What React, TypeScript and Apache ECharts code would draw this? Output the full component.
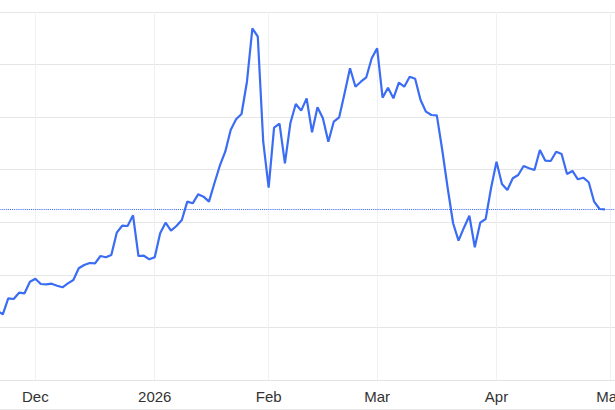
import React, { useEffect, useRef } from "react";
import * as echarts from "echarts";

const dates: string[] = [
  "2025-11-20", "2025-11-21", "2025-11-24", "2025-11-25", "2025-11-26", "2025-11-27", "2025-11-28",
  "2025-12-01", "2025-12-02", "2025-12-03", "2025-12-04", "2025-12-05", "2025-12-08", "2025-12-09",
  "2025-12-10", "2025-12-11", "2025-12-12", "2025-12-15", "2025-12-16", "2025-12-17", "2025-12-18",
  "2025-12-19", "2025-12-22", "2025-12-23", "2025-12-24", "2025-12-26", "2025-12-29", "2025-12-30",
  "2025-12-31",
  "2026-01-02", "2026-01-05", "2026-01-06", "2026-01-07", "2026-01-08", "2026-01-09", "2026-01-12",
  "2026-01-13", "2026-01-14", "2026-01-15", "2026-01-16", "2026-01-19", "2026-01-20", "2026-01-21",
  "2026-01-22", "2026-01-23", "2026-01-26", "2026-01-27", "2026-01-28", "2026-01-29", "2026-01-30",
  "2026-02-02", "2026-02-03", "2026-02-04", "2026-02-05", "2026-02-06", "2026-02-09", "2026-02-10",
  "2026-02-11", "2026-02-12", "2026-02-13", "2026-02-16", "2026-02-17", "2026-02-18", "2026-02-19",
  "2026-02-20", "2026-02-23", "2026-02-24", "2026-02-25", "2026-02-26", "2026-02-27",
  "2026-03-02", "2026-03-03", "2026-03-04", "2026-03-05", "2026-03-06", "2026-03-09", "2026-03-10",
  "2026-03-11", "2026-03-12", "2026-03-13", "2026-03-16", "2026-03-17", "2026-03-18", "2026-03-19",
  "2026-03-20", "2026-03-23", "2026-03-24", "2026-03-25", "2026-03-26", "2026-03-27", "2026-03-30",
  "2026-03-31",
  "2026-04-01", "2026-04-02", "2026-04-06", "2026-04-07", "2026-04-08", "2026-04-09", "2026-04-10",
  "2026-04-13", "2026-04-14", "2026-04-15", "2026-04-16", "2026-04-17", "2026-04-20", "2026-04-21",
  "2026-04-22", "2026-04-23", "2026-04-24", "2026-04-27", "2026-04-28", "2026-04-29", "2026-04-30",
  "2026-05-01", "2026-05-04",
];

const prices: number[] = [
  73.13, 72.5, 75.54, 75.41, 76.61, 76.49, 78.7,
  79.27, 78.26, 78.2, 78.32, 77.94, 77.63, 78.39, 79.02, 81.25, 81.88, 82.26, 82.2, 83.59, 83.34,
  83.78, 88.02, 89.35, 89.29, 91.33, 83.59, 83.64, 82.96,
  83.34, 87.91, 89.92, 88.4, 89.29, 90.44, 93.92, 93.61, 95.32, 94.87, 93.92, 97.42, 100.76, 103.43,
  107.56, 109.59, 110.6, 116.74, 126.9, 125.3, 105.33,
  96.58, 107.99, 108.75, 101.22, 108.83, 112.5, 111.23, 113.58, 107.12, 111.87, 109.78, 105.33,
  109.13, 109.97, 114.54, 119.29, 115.79, 116.74, 117.58, 121.19,
  123.1, 113.7, 115.6, 113.58, 116.55, 115.79, 117.69, 117.31, 113.26, 111.04, 110.41, 110.35,
  103.75, 96.52, 89.81, 86.5, 88.97, 91.25, 85.24, 89.92, 90.63, 96.52,
  101.53, 97.28, 96.14, 98.37, 99.0, 100.71, 100.27, 99.95, 103.75, 101.72, 101.66, 103.43, 102.99,
  99.19, 99.76, 98.18, 98.48, 97.61, 93.92, 92.53, 92.47,
];

const monthNames: string[] = ["Jan", "Feb", "Mar", "Apr", "May", "Jun", "Jul", "Aug", "Sep", "Oct", "Nov", "Dec"];

const yMin = 60;
const yMax = 130;
const yStep = 10;

const isMonthStart = (i: number) =>
  i > 0 && dates[i].slice(0, 7) !== dates[i - 1].slice(0, 7);

export default function App() {
  const ref = useRef<HTMLDivElement>(null);

  useEffect(() => {
    document.body.style.margin = "0";
    if (!ref.current) return;
    const chart = echarts.init(ref.current, undefined, { renderer: "svg" });
    const last = prices[prices.length - 1];
    chart.setOption({
      animation: false,
      backgroundColor: "#ffffff",
      grid: {
        left: -2.6,
        right: -0.85,
        top: 12,
        bottom: 30,
        containLabel: false,
        outerBoundsMode: "none",
      },
      xAxis: {
        type: "category",
        data: dates,
        boundaryGap: false,
        axisTick: { show: false },
        axisLine: { show: true, lineStyle: { color: "#e3e3e3", width: 1 } },
        axisLabel: {
          interval: (i: number) => isMonthStart(i),
          formatter: (v: string) => {
            const [y, m] = v.split("-");
            return m === "01" ? y : monthNames[Number(m) - 1];
          },
          color: "#333333",
          fontSize: 15,
          fontFamily: "Liberation Sans, Arial, sans-serif",
          margin: 9,
          hideOverlap: false,
        },
        splitLine: {
          show: true,
          interval: (i: number) => isMonthStart(i),
          lineStyle: { color: "#eef1f7", width: 1 },
        },
      },
      yAxis: {
        type: "value",
        min: yMin,
        max: yMax,
        interval: yStep,
        axisLabel: { show: false },
        axisLine: { show: false },
        axisTick: { show: false },
        splitLine: { show: true, lineStyle: { color: "#e6e6e6", width: 1 } },
      },
      series: [
        {
          type: "line",
          data: prices,
          showSymbol: false,
          symbol: "none",
          lineStyle: { color: "#3b6cf4", width: 2.2 },
          itemStyle: { color: "#3b6cf4" },
          markLine: {
            silent: true,
            symbol: "none",
            label: { show: false },
            emphasis: { disabled: true },
            lineStyle: { type: [1, 1.1], color: "#2f63f3", width: 1.1, opacity: 1 },
            data: [{ yAxis: last }],
          },
        },
      ],
      graphic: [
        {
          type: "line",
          shape: { x1: 0, y1: 409.5, x2: 615, y2: 409.5 },
          style: { stroke: "#e8e8e8", lineWidth: 1 },
          silent: true,
        },
      ],
    });
    return () => chart.dispose();
  }, []);

  return <div ref={ref} style={{ width: 615, height: 410 }} />;
}
